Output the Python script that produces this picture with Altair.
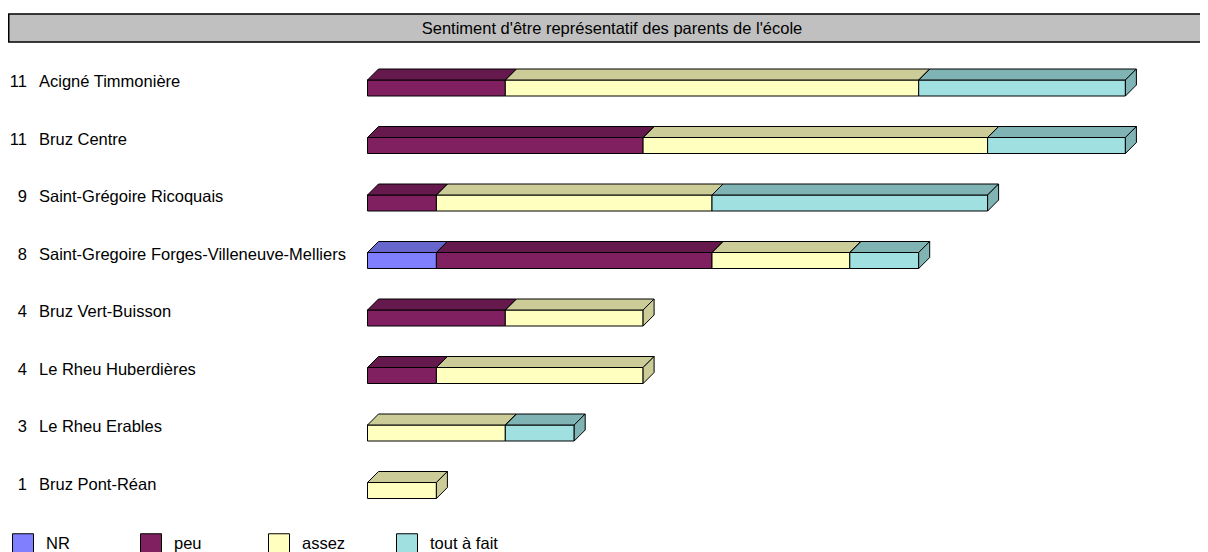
import altair as alt
import pandas as pd

# ---------------- data ----------------
title_text = "Sentiment d'être représentatif des parents de l'école"
categories = ["NR", "peu", "assez", "tout à fait"]
colors = ["#8080FF", "#802060", "#FFFFC0", "#A0E0E0"]
schools = [
    "Acigné Timmonière",
    "Bruz Centre",
    "Saint-Grégoire Ricoquais",
    "Saint-Gregoire Forges-Villeneuve-Melliers",
    "Bruz Vert-Buisson",
    "Le Rheu Huberdières",
    "Le Rheu Erables",
    "Bruz Pont-Réan",
]
nr = [0, 0, 0, 1, 0, 0, 0, 0]
peu = [2, 4, 1, 4, 2, 1, 0, 0]
assez = [6, 5, 4, 2, 2, 3, 2, 1]
tout = [3, 2, 4, 1, 0, 0, 1, 0]

# ---------------- tables built from the arrays ----------------
series = [nr, peu, assez, tout]
seg_rows = []
lab_rows = []
for i, school in enumerate(schools):
    start = 0
    for cat, arr in zip(categories, series):
        v = arr[i]
        if v == 0:
            continue
        seg_rows.append(dict(row=i, cat=cat, start=start, end=start + v,
                             seg=f"{i}-{cat}", last=0))
        start += v
    seg_rows[-1]["last"] = 1
    lab_rows.append(dict(row=i, school=school, total=start))
seg_df = pd.DataFrame(seg_rows)
lab_df = pd.DataFrame(lab_rows)

# ---------------- layout ----------------
W, H = 1192, 544
FONT = "Liberation Sans, Arial, sans-serif"
FS = 16.5
PX_X = 68.9      # pixels per answer
X0 = 359.5       # pixel of value 0
ROW_PX = 57.5    # pixels between rows
Y0 = 72          # pixel of first row front top
FRONT = 16
DEPTH = 11
FH = FRONT / ROW_PX
DY = DEPTH / ROW_PX
DX = DEPTH / PX_X

xs = alt.Scale(domain=[-X0 / PX_X, (W - X0) / PX_X], nice=False, zero=False)
ys = alt.Scale(domain=[-Y0 / ROW_PX, (H - Y0) / ROW_PX], nice=False, zero=False, reverse=True)
cscale = alt.Scale(domain=categories, range=colors)

legend = alt.Legend(
    title=None, orient="none", legendX=4, legendY=525, direction="horizontal",
    columns=4, gridAlign="all", symbolType="square", symbolSize=441,
    symbolStrokeColor="black", symbolStrokeWidth=1, symbolOpacity=1,
    labelFontSize=FS, labelFont=FONT, labelColor="black", labelOffset=12,
    columnPadding=24,
)

base = alt.Chart(seg_df)

front = base.transform_calculate(yb=f"datum.row + {FH}").mark_rect(
    stroke="black", strokeWidth=1
).encode(
    x=alt.X("start:Q", scale=xs, axis=None, stack=None),
    x2="end:Q",
    y=alt.Y("row:Q", scale=ys, axis=None),
    y2="yb:Q",
    color=alt.Color("cat:N", scale=cscale, legend=legend, sort=categories),
)

# two corner rows (k = 0 front edge, k = 1 back edge) per segment
two = base.transform_calculate(k0="0", k1="1").transform_fold(
    ["k0", "k1"], as_=["kname", "k"]
)

top = two.transform_calculate(
    ty=f"datum.row - datum.k * {DY}",
    txs=f"datum.start + datum.k * {DX}",
    txe=f"datum.end + datum.k * {DX}",
)
top_enc = dict(
    y=alt.Y("ty:Q", scale=ys, axis=None),
    x=alt.X("txs:Q", scale=xs, axis=None, stack=None),
    x2="txe:Q",
    detail="seg:N",
)
top_fill = top.mark_area(orient="horizontal", opacity=1).encode(
    color=alt.Color("cat:N", scale=cscale, legend=None), **top_enc
)
top_dark = top.mark_area(
    orient="horizontal", fill="black", fillOpacity=0.2, stroke="black", strokeWidth=1
).encode(**top_enc)

side = two.transform_filter("datum.last == 1").transform_calculate(
    sx=f"datum.end + datum.k * {DX}",
    sya=f"datum.row - datum.k * {DY}",
    syb=f"datum.row + {FH} - datum.k * {DY}",
)
side_enc = dict(
    x=alt.X("sx:Q", scale=xs, axis=None),
    y=alt.Y("sya:Q", scale=ys, axis=None, stack=None),
    y2="syb:Q",
    detail="seg:N",
)
side_fill = side.mark_area(orient="vertical", opacity=1).encode(
    color=alt.Color("cat:N", scale=cscale, legend=None), **side_enc
)
side_dark = side.mark_area(
    orient="vertical", fill="black", fillOpacity=0.2, stroke="black", strokeWidth=1
).encode(**side_enc)

labels = alt.Chart(lab_df)
cnt = labels.mark_text(align="right", baseline="alphabetic", dy=7, fontSize=FS,
                       font=FONT, color="black").encode(
    x=alt.value(19), y=alt.Y("row:Q", scale=ys, axis=None), text="total:Q"
)
names = labels.mark_text(align="left", baseline="alphabetic", dy=7, fontSize=FS,
                         font=FONT, color="black").encode(
    x=alt.value(31), y=alt.Y("row:Q", scale=ys, axis=None), text="school:N"
)

tdf = alt.Chart(pd.DataFrame({"t": [title_text]}))
tbar = tdf.mark_rect(fill="#C0C0C0", stroke="black", strokeWidth=1.5).encode(
    x=alt.value(0.75), x2=alt.value(1200), y=alt.value(6), y2=alt.value(34)
)
ttext = tdf.mark_text(align="center", baseline="alphabetic", fontSize=FS, font=FONT,
                      color="black").encode(
    x=alt.value(604), y=alt.value(26), text="t:N"
)

chart = alt.layer(
    tbar, ttext, front, top_fill, top_dark, side_fill, side_dark, cnt, names
).properties(
    width=W, height=H, padding=0, autosize=alt.AutoSizeParams(type="none"),
    background="white",
).configure_view(stroke=None)

chart.save("out.html", embed_options={"renderer": "svg", "actions": False})
